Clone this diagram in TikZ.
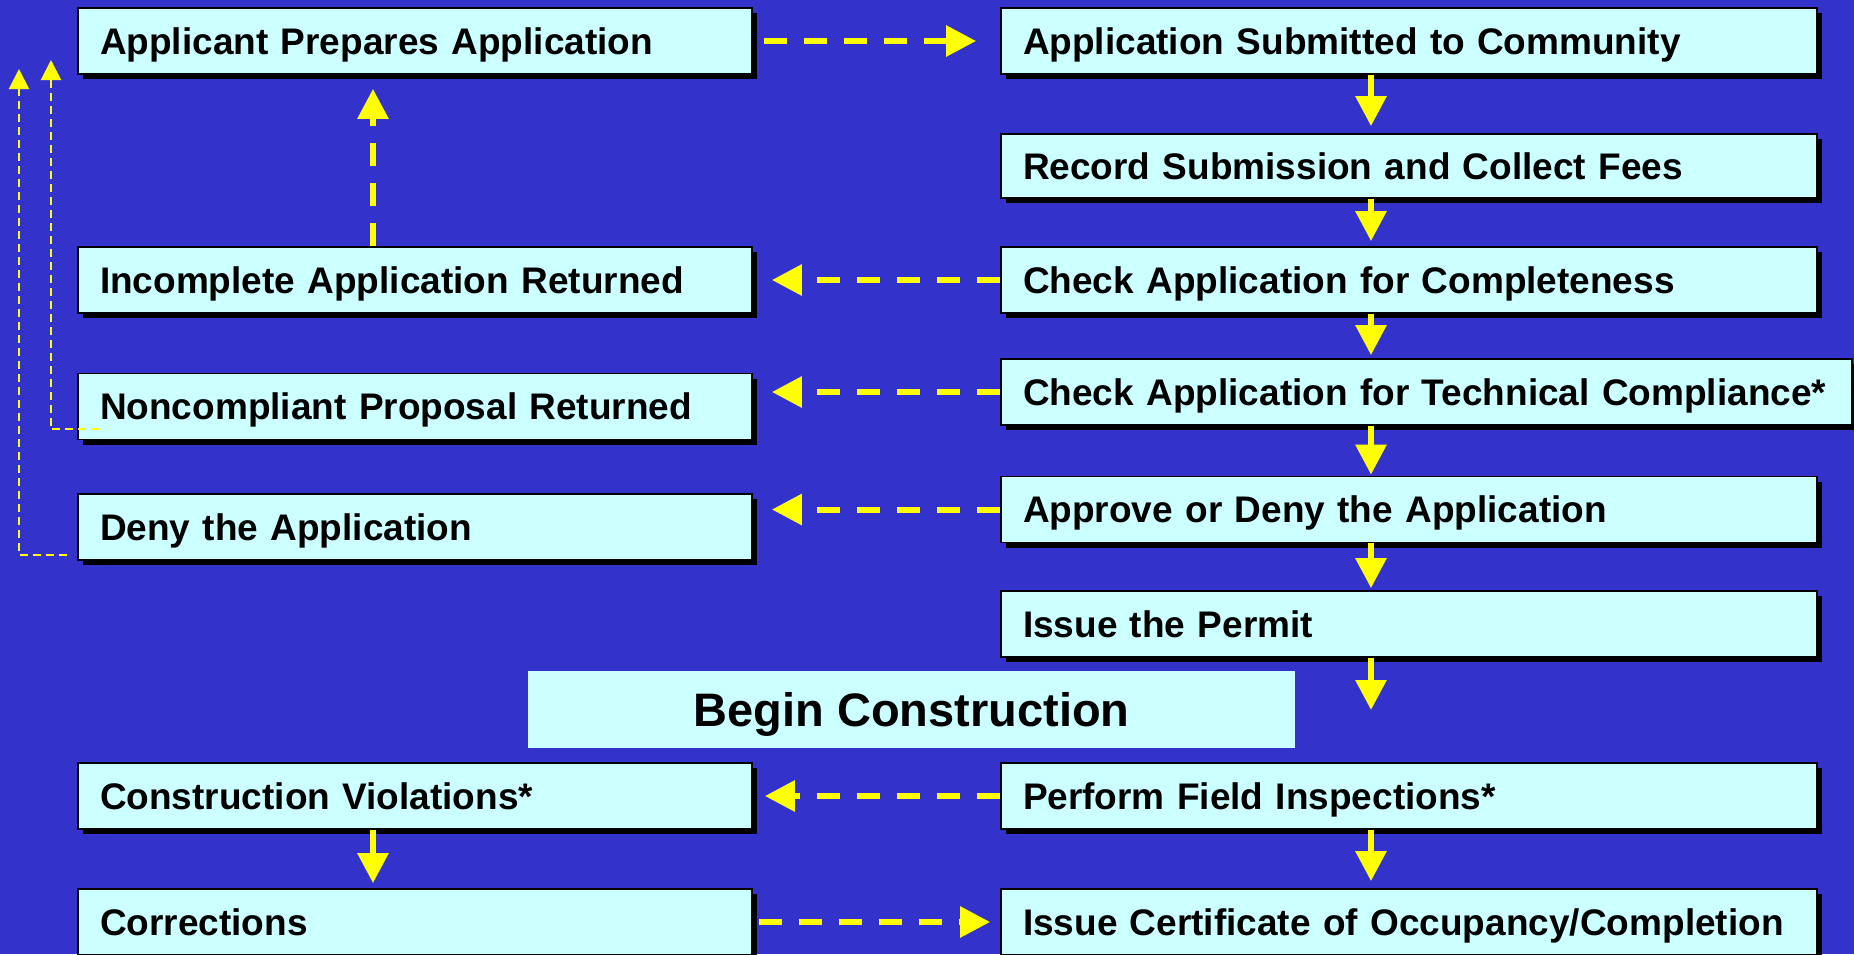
\documentclass[tikz,border=0pt]{standalone}
\usepackage{fontspec}
\setmainfont{Liberation Sans}
\usetikzlibrary{arrows.meta,shadows}
\definecolor{Navy}{HTML}{3333CC}
\definecolor{Cyan}{HTML}{CCFFFF}
\definecolor{Yellow}{HTML}{FFFF00}
\tikzset{
  stage/.style={draw=black,line width=.9pt,fill=Cyan,
    drop shadow={shadow xshift=2.5pt,shadow yshift=-2.5pt,fill=black,opacity=1},
    minimum height=33pt,inner xsep=11pt,text width=#1,align=left,
    text height=13.5pt,text depth=.5pt,font=\fontsize{18.5}{22}\selectfont\bfseries},
  milestone/.style={fill=Cyan,minimum width=383.5pt,minimum height=38.5pt,
    text height=17pt,text depth=.2pt,font=\fontsize{23.5}{28}\selectfont\bfseries},
  arrow/.style={-{Triangle[length=15pt,width=15pt]},draw=Yellow,line width=3pt,
    dash pattern=on 11.5pt off 8.5pt},
  stagearrow/.style={-{Triangle[length=15pt,width=15pt]},draw=Yellow,line width=3pt},
  backline/.style={-{Triangle[length=10pt,width=10pt]},draw=Yellow,line width=1pt,
    dash pattern=on 4pt off 2.5pt}
}

\begin{document}
\begin{tikzpicture}[x=.5pt,y=-.5pt]
  \useasboundingbox (0,0) rectangle (1854,954);
  \fill[Navy] (0,0) rectangle (1854,954);
  \coordinate (spine) at (1371,0);
  \coordinate (leftspine) at (373,0);
  % left column
  \node[stage=315pt] (prep) at (415,41) {Applicant Prepares Application};
  \node[stage=315pt] (incomplete) at (415,280) {Incomplete Application Returned};
  \node[stage=315pt] (noncompliant) at (415,406.5) {Noncompliant Proposal Returned};
  \node[stage=315pt] (deny) at (415,527) {Deny the Application};
  \node[stage=315pt] (violation) at (415,796) {Construction Violations*};
  \node[stage=315pt] (correct) at (415,922) {Corrections};
  % right column
  \node[stage=386pt] (submit) at (1409,41) {Application Submitted to Community};
  \node[stage=386pt,minimum height=32pt] (record) at (1409,166) {Record Submission and Collect Fees};
  \node[stage=386pt] (complete) at (1409,280) {Check Application for Completeness};
  \node[stage=403.5pt] (technical) at (1426.5,392) {Check Application for Technical Compliance*};
  \node[stage=386pt] (decide) at (1409,509.5) {Approve or Deny the Application};
  \node[stage=386pt] (permit) at (1409,624) {Issue the Permit};
  \node[stage=386pt] (inspect) at (1409,796) {Perform Field Inspections*};
  \node[stage=386pt] (occupancy) at (1409,922) {Issue Certificate of Occupancy/Completion};
  \node[milestone] (begin) at (911.5,709.5) {Begin Construction};
  % main sequence
  \coordinate (built) at (1371,710);
  \draw[stagearrow,shorten >=3.5pt] (submit.south -| spine) -- (record.north -| spine);
  \draw[stagearrow,shorten >=2.5pt] (record.south -| spine) -- (complete.north -| spine);
  \draw[stagearrow,shorten >=1.5pt] (complete.south -| spine) -- (technical.north -| spine);
  \draw[stagearrow,shorten >=.5pt] (technical.south -| spine) -- (decide.north -| spine);
  \draw[stagearrow,shorten >=1pt] (decide.south -| spine) -- (permit.north -| spine);
  \draw[stagearrow] (permit.south -| spine) -- (built);
  \draw[stagearrow,shorten >=3.5pt] (inspect.south -| spine) -- (occupancy.north -| spine);
  \draw[stagearrow,shorten >=2.5pt] (violation.south -| leftspine) -- (correct.north -| leftspine);
  % side branches
  \draw[arrow,yshift=-1.5pt,shorten <=5.5pt,shorten >=12pt] (prep.east) -- (submit.west);
  \draw[arrow,yshift=-1pt,shorten >=9.5pt] (complete.west) -- (incomplete.east);
  \draw[arrow,yshift=-1pt,shorten >=9.5pt] (technical.west) -- (technical.west -| noncompliant.east);
  \draw[arrow,yshift=-2pt,shorten >=9.5pt] (decide.west) -- (decide.west -| deny.east);
  \draw[arrow,yshift=-1pt,shorten >=6pt] (inspect.west) -- (violation.east);
  \draw[arrow,shorten <=3pt,shorten >=5pt] (correct.east) -- (occupancy.west);
  \draw[arrow,shorten >=7pt] (incomplete.north -| leftspine) -- (prep.south -| leftspine);
  % returns to the applicant
  \coordinate (denytop) at (19,69);
  \coordinate (noncotop) at (51,60);
  \draw[backline] ([shift={(-5pt,3pt)}]deny.south west) -| (denytop);
  \draw[backline] ([shift={(11pt,5.5pt)}]noncompliant.south west) -| (noncotop);
\end{tikzpicture}
\end{document}
